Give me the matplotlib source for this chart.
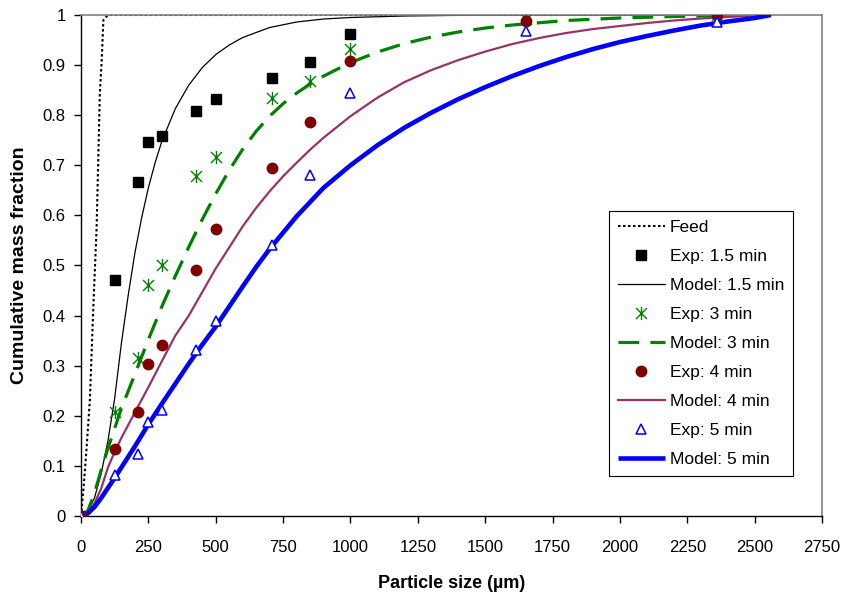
import matplotlib
matplotlib.use("Agg")
import matplotlib.pyplot as plt
from matplotlib.path import Path
from matplotlib.ticker import MultipleLocator, FuncFormatter

plt.rcParams['font.family'] = ['Liberation Sans', 'DejaVu Sans']

# Sieve sizes (µm) for the measured fractions
sieve = [0, 125, 212, 250, 300, 425, 500, 710, 850, 1000, 1650, 2360]
sieve_15 = [0, 125, 212, 250, 300, 425, 500, 710, 850, 1000]

exp_15 = [0, 0.471, 0.667, 0.747, 0.758, 0.808, 0.833, 0.875, 0.907, 0.963]
exp_3 = [0, 0.208, 0.316, 0.461, 0.501, 0.679, 0.717, 0.834, 0.868, 0.933, 0.992, 1.0]
exp_4 = [0, 0.134, 0.208, 0.303, 0.341, 0.491, 0.573, 0.695, 0.787, 0.908, 0.989, 1.0]
exp_5 = [0, 0.082, 0.123, 0.188, 0.212, 0.331, 0.390, 0.541, 0.681, 0.844, 0.969, 0.986]

# Feed size distribution
feed_x = [0, 10, 20, 33, 46, 58, 64, 70, 77, 83, 100, 2560]
feed_y = [0, 0.06, 0.13, 0.232, 0.42, 0.577, 0.71, 0.844, 0.91, 0.99, 1.0, 1.0]

# Model predictions
m15_x = [0, 25, 50, 75, 100, 125, 150, 175, 200, 225, 250, 275, 300, 350, 400, 450, 500,
         550, 600, 700, 800, 900, 1000, 1200, 1500, 2560]
m15_y = [0, 0.008, 0.036, 0.085, 0.15, 0.235, 0.345, 0.44, 0.525, 0.595, 0.655, 0.705, 0.748,
         0.813, 0.86, 0.895, 0.921, 0.94, 0.955, 0.975, 0.986, 0.992, 0.995, 0.998, 1.0, 1.0]

m3_x = [0, 25, 50, 75, 100, 125, 150, 200, 250, 300, 350, 400, 450, 500, 550, 600, 650,
        700, 750, 800, 850, 900, 1000, 1100, 1200, 1300, 1400, 1500, 1600, 1800, 2000,
        2200, 2400, 2560]
m3_y = [0, 0.01, 0.045, 0.092, 0.135, 0.175, 0.215, 0.283, 0.352, 0.418, 0.479, 0.537,
        0.592, 0.643, 0.69, 0.732, 0.768, 0.798, 0.823, 0.844, 0.862, 0.878, 0.905, 0.926,
        0.943, 0.956, 0.966, 0.974, 0.98, 0.989, 0.994, 0.997, 0.999, 1.0]

m4_x = [0, 25, 50, 75, 100, 125, 150, 200, 250, 300, 350, 400, 450, 500, 550, 600, 650,
        700, 750, 800, 850, 900, 1000, 1100, 1200, 1300, 1400, 1500, 1600, 1700, 1800,
        1900, 2000, 2100, 2200, 2300, 2400, 2500, 2560]
m4_y = [0, 0.006, 0.025, 0.055, 0.097, 0.128, 0.156, 0.207, 0.257, 0.309, 0.36, 0.40,
        0.447, 0.494, 0.536, 0.578, 0.615, 0.648, 0.678, 0.705, 0.731, 0.755, 0.798, 0.835,
        0.866, 0.89, 0.91, 0.927, 0.942, 0.954, 0.964, 0.972, 0.978, 0.984, 0.989, 0.993,
        0.996, 0.999, 1.0]

m5_x = [0, 25, 50, 75, 100, 125, 150, 200, 250, 300, 350, 400, 450, 500, 550, 600, 650,
        700, 800, 900, 1000, 1100, 1200, 1300, 1400, 1500, 1600, 1700, 1800, 1900, 2000,
        2100, 2200, 2300, 2400, 2500, 2560]
m5_y = [0, 0.005, 0.018, 0.036, 0.056, 0.076, 0.097, 0.139, 0.183, 0.224, 0.264, 0.304,
        0.342, 0.378, 0.418, 0.458, 0.497, 0.533, 0.598, 0.655, 0.70, 0.74, 0.775, 0.805,
        0.832, 0.856, 0.878, 0.898, 0.916, 0.932, 0.946, 0.958, 0.969, 0.979, 0.987, 0.994,
        1.0]

# Star marker: an X with a vertical bar
star = Path([(-1, -1), (1, 1), (-1, 1), (1, -1), (0, -1.2), (0, 1.2)],
            [Path.MOVETO, Path.LINETO, Path.MOVETO, Path.LINETO, Path.MOVETO, Path.LINETO])

fig = plt.figure(figsize=(8.43, 5.95), dpi=100)
ax = fig.add_axes([81 / 843, 79 / 595, 741 / 843, 501 / 595])

h_feed, = ax.plot(feed_x, feed_y, color='black', lw=1.5, linestyle=(0, (1.2, 1.2)), zorder=2)
h_e15, = ax.plot(sieve_15, exp_15, linestyle='none', marker='s', ms=7, color='black', zorder=4)
h_m15, = ax.plot(m15_x, m15_y, color='black', lw=0.9, zorder=2)
h_e3, = ax.plot(sieve, exp_3, linestyle='none', marker=star, ms=9.5, mfc='none',
                mec='#008000', mew=1.0, zorder=4)
h_m3, = ax.plot(m3_x, m3_y, color='#008000', lw=2.3, linestyle=(0, (6.5, 3.5)), zorder=2)
h_e4, = ax.plot(sieve, exp_4, linestyle='none', marker='o', ms=7.5, color='#800000', zorder=4)
h_m4, = ax.plot(m4_x, m4_y, color='#993366', lw=1.6, zorder=2)
h_e5, = ax.plot(sieve, exp_5, linestyle='none', marker='^', ms=7.5, mfc='white',
                mec='#0000FF', mew=1.1, zorder=5)
h_m5, = ax.plot(m5_x, m5_y, color='#0000FF', lw=3.3, zorder=3, solid_capstyle='butt')

ax.set_xlim(0, 2750)
ax.set_ylim(0, 1)
ax.xaxis.set_major_locator(MultipleLocator(250))
ax.yaxis.set_major_locator(MultipleLocator(0.1))
ax.yaxis.set_major_formatter(FuncFormatter(lambda v, p: f"{v:g}"))
ax.tick_params(axis='x', direction='out', length=5, width=1, pad=12, labelsize=12)
ax.tick_params(axis='y', direction='out', length=5, width=1, pad=6, labelsize=12)

for s in ('top', 'right'):
    ax.spines[s].set_color('#808080')
    ax.spines[s].set_linewidth(1.2)
for s in ('left', 'bottom'):
    ax.spines[s].set_color('black')
    ax.spines[s].set_linewidth(1.0)

ax.set_xlabel('Particle size (µm)', fontsize=13, fontweight='bold')
ax.set_ylabel('Cumulative mass fraction', fontsize=14, fontweight='bold')
ax.xaxis.set_label_coords(0.5, -0.118)
ax.yaxis.set_label_coords(-0.072, 0.5)

handles = [h_feed, h_e15, h_m15, h_e3, h_m3, h_e4, h_m4, h_e5, h_m5]
labels = ['Feed', 'Exp: 1.5 min', 'Model: 1.5 min', 'Exp: 3 min', 'Model: 3 min',
          'Exp: 4 min', 'Model: 4 min', 'Exp: 5 min', 'Model: 5 min']
leg = ax.legend(handles, labels, loc='lower left', bbox_to_anchor=(0.7126, 0.0798),
                borderaxespad=0, fontsize=12.5, frameon=True, fancybox=False,
                framealpha=1, edgecolor='black', numpoints=1, handlelength=2.7,
                handletextpad=0.3, labelspacing=0.8, borderpad=0.5)
leg.get_frame().set_linewidth(0.8)
leg.set_zorder(10)

fig.savefig('out.png', dpi=100)
